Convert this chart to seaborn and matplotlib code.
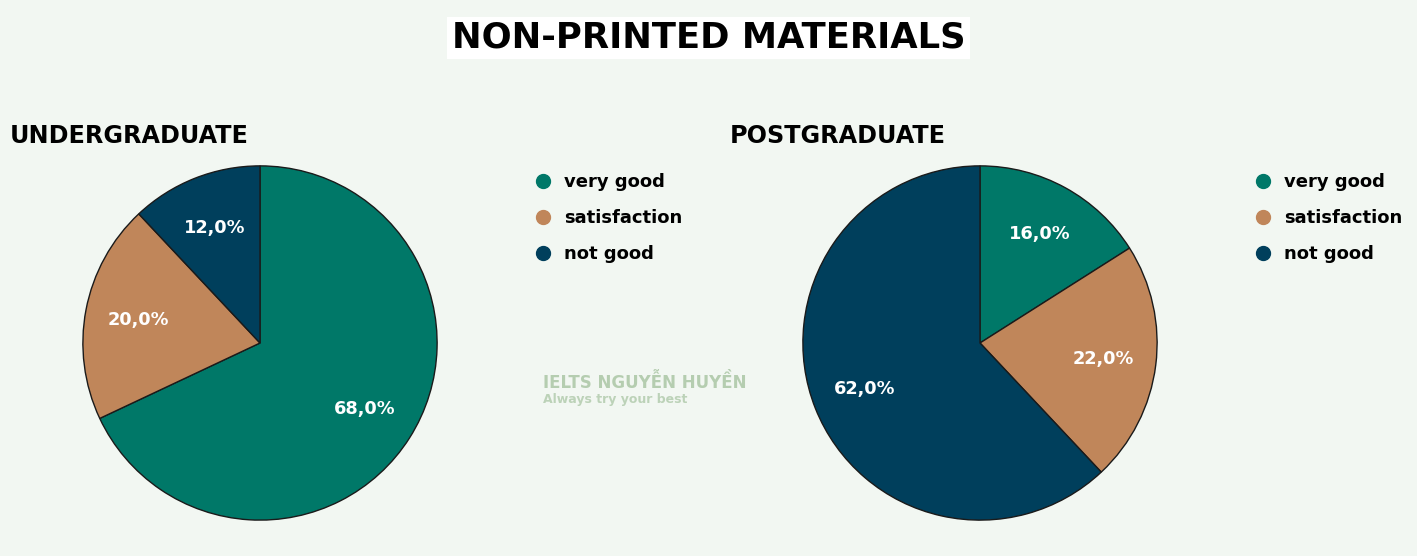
import numpy as np
import pandas as pd
import seaborn as sns
import matplotlib.pyplot as plt
from matplotlib.lines import Line2D

# --- data ---
categories = ["very good", "satisfaction", "not good"]
undergrad = [68.0, 20.0, 12.0]
postgrad = [16.0, 22.0, 62.0]
groups = ["UNDERGRADUATE", "POSTGRADUATE"]
title = "NON-PRINTED MATERIALS"

colors = ["#007868", "#C0865A", "#003F5C"]
bg = "#F2F7F2"

sns.set_theme(style="white")
plt.rcParams['font.family'] = ['DejaVu Sans']
plt.rcParams['text.color'] = 'black'

W, H = 1417, 556
fig = plt.figure(figsize=(W / 100, H / 100), dpi=100, facecolor=bg)


def fx(px):
    return px / W


def fy(py):
    return 1 - py / H


R = 178  # pie radius in pixels
centers = [(260, 343), (980, 343)]
values = [undergrad, postgrad]
title_x = [10, 730]
legend_x = [525, 1245]

for (cx, cy), vals, name, tx, lx in zip(centers, values, groups, title_x, legend_x):
    ax = fig.add_axes([fx(cx - R), fy(cy + R), 2 * R / W, 2 * R / H])
    ax.set_facecolor(bg)
    wedges, _, autotexts = ax.pie(
        vals, colors=colors, startangle=90, counterclock=False,
        autopct=lambda p: f"{p:.1f}%".replace(".", ","), pctdistance=0.70,
        wedgeprops=dict(edgecolor="#1a1a1a", linewidth=1),
        textprops=dict(color="white", fontsize=12.8, fontweight="bold"))
    ax.set_xlim(-1.005, 1.005)
    ax.set_ylim(-1.005, 1.005)
    ax.axis("off")

    fig.text(fx(tx), fy(136), name, fontsize=17.2, fontweight="bold",
             color="black", ha="left", va="center")

    handles = [Line2D([0], [0], marker="o", linestyle="", markersize=10,
                      markerfacecolor=c, markeredgecolor=c) for c in colors]
    fig.legend(handles, categories, loc="upper left",
               bbox_to_anchor=(fx(lx), fy(166)), frameon=False,
               prop=dict(size=13, weight="bold"), labelcolor="black",
               handletextpad=0.55, labelspacing=1.0, handlelength=1.2,
               borderaxespad=0)

fig.text(0.5, fy(38), title, fontsize=25.5, fontweight="bold", color="black",
         ha="center", va="center",
         bbox=dict(facecolor="white", edgecolor="none", pad=3))

# watermark
fig.text(fx(543), fy(383), "IELTS NGUYỄN HUYỀN", fontsize=12, fontweight="bold",
         color="#B5CDB0", ha="left", va="center")
fig.text(fx(543), fy(400), "Always try your best", fontsize=9, fontweight="bold",
         color="#BCD2B8", ha="left", va="center")

fig.savefig("out.png", dpi=100, facecolor=bg)
